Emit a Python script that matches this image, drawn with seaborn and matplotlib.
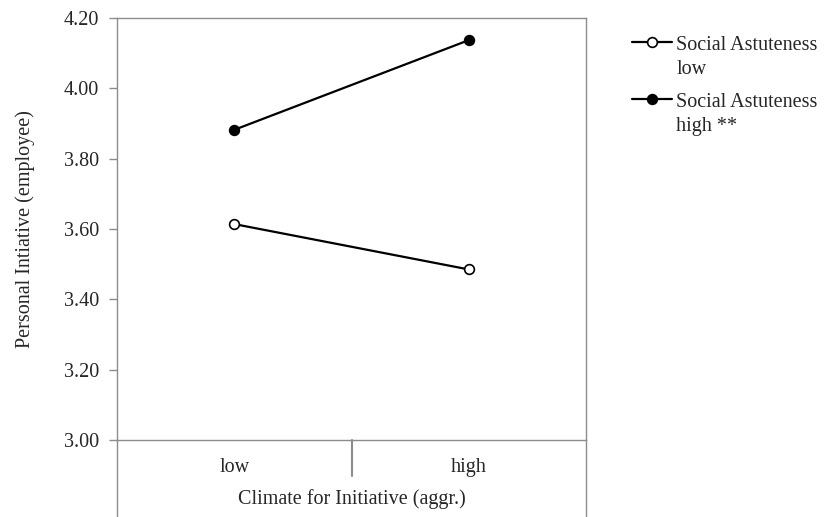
import matplotlib
matplotlib.use("Agg")
import matplotlib.pyplot as plt
from matplotlib.legend_handler import HandlerLine2D
from matplotlib.lines import Line2D
from matplotlib.transforms import Affine2D
import seaborn as sns
import pandas as pd

# data
climate = ["low", "high"]
sa_low = [3.614, 3.485]
sa_high = [3.882, 4.137]
series_names = ["Social Astuteness\nlow", "Social Astuteness\nhigh **"]
y_ticks = [3.00, 3.20, 3.40, 3.60, 3.80, 4.00, 4.20]

sns.set_style("white")
plt.rcParams["font.family"] = ["Liberation Serif", "DejaVu Serif"]

df = pd.DataFrame({
    "Climate": climate * 2,
    "PI": sa_low + sa_high,
    "Series": [series_names[0]] * 2 + [series_names[1]] * 2,
})


class FirstLineHandler(HandlerLine2D):
    # put the legend marker next to the first text line, as Excel does
    def create_artists(self, legend, orig_handle, xdescent, ydescent, width, height,
                       fontsize, trans):
        trans = Affine2D().translate(0, 11) + trans
        return super().create_artists(legend, orig_handle, xdescent, ydescent, width,
                                      height, fontsize, trans)


fig = plt.figure(figsize=(8.26, 5.17), dpi=100)
ax = fig.add_axes([117 / 826, 1 - 440 / 517, (586 - 117) / 826, (440 - 18) / 517])

fs = 14.5
grey = "#8c8c8c"
faces = ["white", "black"]
for name, face in zip(series_names, faces):
    sns.lineplot(data=df[df["Series"] == name], x="Climate", y="PI", ax=ax,
                 color="black", linewidth=1.6, marker="o", markersize=7,
                 markerfacecolor=face, markeredgecolor="black",
                 markeredgewidth=1.2, label=name)

ax.set_xlim(-0.5, 1.5)
ax.set_ylim(3.0, 4.2)
ax.set_yticks(y_ticks)
ax.set_yticklabels([f"{v:.2f}" for v in y_ticks], fontsize=fs)
ax.set_xticks([0, 1])
ax.set_xticklabels(climate, fontsize=fs)
ax.tick_params(axis="y", direction="out", length=6, color=grey, width=1, pad=7, left=True)
ax.tick_params(axis="x", length=0, pad=13)

for sp in ax.spines.values():
    sp.set_color(grey)
    sp.set_linewidth(1)

# category divider and extended side lines of the Excel-style frame
ax.plot([0.5, 0.5], [0, -36 / 422], transform=ax.get_xaxis_transform(), color=grey,
        lw=1.5, clip_on=False)
ax.plot([-0.5, -0.5], [0, -80 / 422], transform=ax.get_xaxis_transform(), color=grey,
        lw=1, clip_on=False)
ax.plot([1.5, 1.5], [0, -80 / 422], transform=ax.get_xaxis_transform(), color=grey,
        lw=1, clip_on=False)

ax.set_xlabel("Climate for Initiative (aggr.)", fontsize=fs, labelpad=9)
ax.set_ylabel("Personal Intiative (employee)", fontsize=fs)
ax.yaxis.set_label_coords(-0.175, 0.5)

ax.get_legend().remove()
handles, labels = ax.get_legend_handles_labels()
leg = fig.legend(handles, labels, loc="upper left", bbox_to_anchor=(0.743, 0.966),
                 frameon=False, fontsize=fs, handlelength=2.0, handletextpad=0.2,
                 labelspacing=0.7, handler_map={Line2D: FirstLineHandler()})
for t in leg.get_texts():
    t.set_linespacing(1.35)

fig.savefig("out.png", dpi=100)
